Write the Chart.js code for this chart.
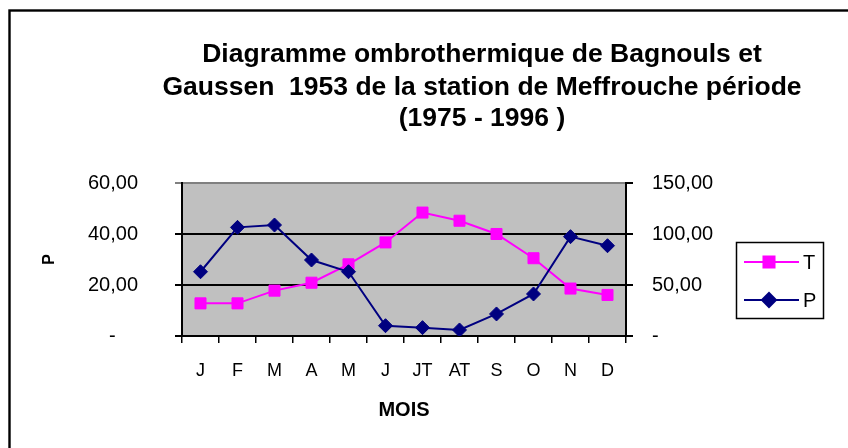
<!DOCTYPE html>
<html>
<head>
<meta charset="utf-8">
<script src="https://cdn.jsdelivr.net/npm/chart.js@4/dist/chart.umd.min.js"></script>
<style>
  html, body { margin: 0; padding: 0; background: #fff; }
  #wrap { width: 848px; height: 448px; }
</style>
</head>
<body>
<div id="wrap"><canvas id="chart" width="848" height="448"></canvas></div>
<script>
// données
const mois = ['J', 'F', 'M', 'A', 'M', 'J', 'JT', 'AT', 'S', 'O', 'N', 'D'];
const temperature = [12.8, 12.8, 17.8, 20.9, 28.1, 36.7, 48.4, 45.2, 40.0, 30.5, 18.6, 16.1];
const precipitation = [63.0, 106.5, 108.8, 74.5, 63.0, 10.1, 8.2, 5.9, 21.6, 41.2, 97.4, 88.5];
const ticksGauche = [0, 20, 40, 60];
const ticksDroite = [0, 50, 100, 150];
const titre = [
  'Diagramme ombrothermique de Bagnouls et',
  'Gaussen  1953 de la station de Meffrouche période',
  '(1975 - 1996 )'
];

const FONT = '"Liberation Sans", Arial, sans-serif';

function fmt(v, gauche) {
  if (v === 0) return gauche ? '-    ' : '-';
  return v.toFixed(2).replace('.', ',');
}

// fond gris + cadre extérieur
const fondPlugin = {
  id: 'fond',
  beforeDraw(chart) {
    const ctx = chart.ctx;
    const a = chart.chartArea;
    ctx.save();
    ctx.fillStyle = '#fff';
    ctx.fillRect(0, 0, chart.width, chart.height);
    ctx.fillStyle = '#C0C0C0';
    ctx.fillRect(a.left, a.top, a.right - a.left, a.bottom - a.top);
    ctx.strokeStyle = '#000';
    ctx.lineWidth = 2.4;
    ctx.strokeRect(9.5, 10.5, 1000, 1000);
    ctx.restore();
  }
};

// titre sur 3 lignes + légende encadrée
const textePlugin = {
  id: 'texte',
  afterDraw(chart) {
    const ctx = chart.ctx;
    ctx.save();
    ctx.fillStyle = '#000';
    ctx.font = 'bold 26.5px ' + FONT;
    ctx.textAlign = 'center';
    ctx.textBaseline = 'alphabetic';
    const base = [62, 95, 126];
    titre.forEach((l, i) => ctx.fillText(l, 482, base[i]));

    // légende
    ctx.lineWidth = 1.5;
    ctx.strokeStyle = '#000';
    ctx.strokeRect(736.5, 242.5, 87, 76);
    const rows = [262, 300];
    chart.data.datasets.forEach((ds, i) => {
      const y = rows[i];
      ctx.strokeStyle = ds.borderColor;
      ctx.lineWidth = 2;
      ctx.beginPath();
      ctx.moveTo(744, y);
      ctx.lineTo(799, y);
      ctx.stroke();
      ctx.fillStyle = ds.backgroundColor;
      Chart.helpers.drawPoint(ctx, {
        pointStyle: ds.pointStyle,
        radius: ds.pointRadius,
        rotation: 0,
        borderWidth: 1
      }, 769, y);
      ctx.fillStyle = '#000';
      ctx.font = '20px ' + FONT;
      ctx.textAlign = 'left';
      ctx.textBaseline = 'middle';
      ctx.fillText(ds.label, 803, y + 1);
    });
    ctx.restore();
  }
};

const ctx = document.getElementById('chart').getContext('2d');
new Chart(ctx, {
  type: 'line',
  data: {
    labels: mois,
    datasets: [
      {
        label: 'T',
        data: temperature,
        yAxisID: 'y',
        borderColor: '#FF00FF',
        backgroundColor: '#FF00FF',
        borderWidth: 2,
        pointStyle: 'rect',
        pointRadius: 7.8,
        pointBorderWidth: 1,
        tension: 0,
        order: 2
      },
      {
        label: 'P',
        data: precipitation,
        yAxisID: 'y1',
        borderColor: '#000080',
        backgroundColor: '#000080',
        borderWidth: 2,
        pointStyle: 'rectRot',
        pointRadius: 7,
        pointBorderWidth: 1,
        tension: 0,
        order: 1
      }
    ]
  },
  options: {
    responsive: false,
    animation: false,
    devicePixelRatio: 1,
    layout: { padding: { top: 183, left: 0, right: 0, bottom: 0 } },
    plugins: {
      legend: { display: false },
      title: { display: false },
      tooltip: { enabled: false }
    },
    scales: {
      x: {
        offset: true,
        grid: {
          offset: true,
          drawOnChartArea: false,
          color: '#000',
          lineWidth: 1.5,
          tickLength: 7
        },
        border: { color: '#000', width: 2 },
        ticks: {
          color: '#000',
          padding: 17,
          maxRotation: 0,
          autoSkip: false,
          font: { family: FONT, size: 18 }
        },
        title: {
          display: true,
          text: 'MOIS',
          color: '#000',
          padding: { top: 0, bottom: 26 },
          font: { family: FONT, size: 20, weight: 'bold' }
        },
        afterFit(s) { s.height = 112; }
      },
      y: {
        position: 'left',
        min: 0,
        max: 60,
        afterBuildTicks(s) { s.ticks = ticksGauche.map(v => ({ value: v })); },
        grid: {
          color: c => (c.tick && c.tick.value === 60 ? '#808080' : '#000'),
          lineWidth: 2,
          tickLength: 7
        },
        border: { color: '#000', width: 2 },
        ticks: {
          color: '#000',
          padding: 37,
          font: { family: FONT, size: 20 },
          callback: v => fmt(v, true)
        },
        title: {
          display: true,
          text: 'P',
          color: '#000',
          padding: { top: 40, bottom: 0 },
          font: { family: FONT, size: 16, weight: 'bold' }
        },
        afterFit(s) { s.width = 182; }
      },
      y1: {
        position: 'right',
        min: 0,
        max: 150,
        afterBuildTicks(s) { s.ticks = ticksDroite.map(v => ({ value: v })); },
        grid: {
          drawOnChartArea: false,
          color: '#000',
          lineWidth: 2,
          tickLength: 7
        },
        border: { color: '#000', width: 2 },
        ticks: {
          color: '#000',
          padding: 19,
          font: { family: FONT, size: 20 },
          callback: v => fmt(v, false)
        },
        afterFit(s) { s.width = 222; }
      }
    }
  },
  plugins: [fondPlugin, textePlugin]
});
</script>
</body>
</html>
